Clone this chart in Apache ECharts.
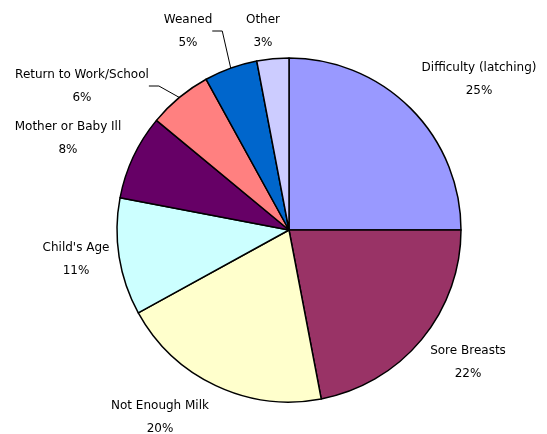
<!DOCTYPE html>
<html>
<head>
<meta charset="utf-8">
<script src="https://cdn.jsdelivr.net/npm/echarts@6/dist/echarts.min.js"></script>
<style>
  html, body { margin: 0; padding: 0; background: #fff; }
  #chart { width: 547px; height: 434px; }
</style>
</head>
<body>
<div id="chart"></div>
<script>
// reasons for stopping, clockwise from 12 o'clock
var reasons = ['Difficulty (latching)', 'Sore Breasts', 'Not Enough Milk', "Child's Age",
    'Mother or Baby Ill', 'Return to Work/School', 'Weaned', 'Other'];
var percents = [25, 22, 20, 11, 8, 6, 5, 3];
var sliceColors = ['#9999FF', '#993366', '#FFFFCC', '#CCFFFF', '#660066', '#FF8080', '#0066CC', '#CCCCFF'];
// which slices get a leader line
var withLine = [false, false, false, false, false, true, true, false];

var chart = echarts.init(document.getElementById('chart'));

// label centre points, tuned by eye against the original
var labelSpots = [[479, 79], [468, 362], [160, 417], [76, 259], [68, 138], [82, 86], [188, 31], [263, 31]];

var pieData = reasons.map(function (name, i) {
    return {
        name: name,
        value: percents[i],
        itemStyle: { color: sliceColors[i] },
        labelLine: { show: withLine[i] }
    };
});

var option = {
    animation: false,
    series: [
        {
            type: 'pie',
            center: [289, 230],
            radius: [0, 172],
            startAngle: 90,
            clockwise: true,
            avoidLabelOverlap: false,
            itemStyle: {
                borderColor: '#000',
                borderWidth: 1.5
            },
            label: {
                show: true,
                position: 'outside',
                formatter: '{b}\n{c}%',
                fontFamily: 'DejaVu Sans, sans-serif',
                fontSize: 12,
                lineHeight: 23,
                color: '#000'
            },
            labelLine: {
                length: 10,
                length2: 10,
                lineStyle: { color: '#000', width: 1 }
            },
            labelLayout: function (params) {
                var p = labelSpots[params.dataIndex];
                return {
                    x: p[0],
                    y: p[1],
                    align: 'center',
                    verticalAlign: 'middle'
                };
            },
            data: pieData
        }
    ]
};

chart.setOption(option);
</script>
</body>
</html>
